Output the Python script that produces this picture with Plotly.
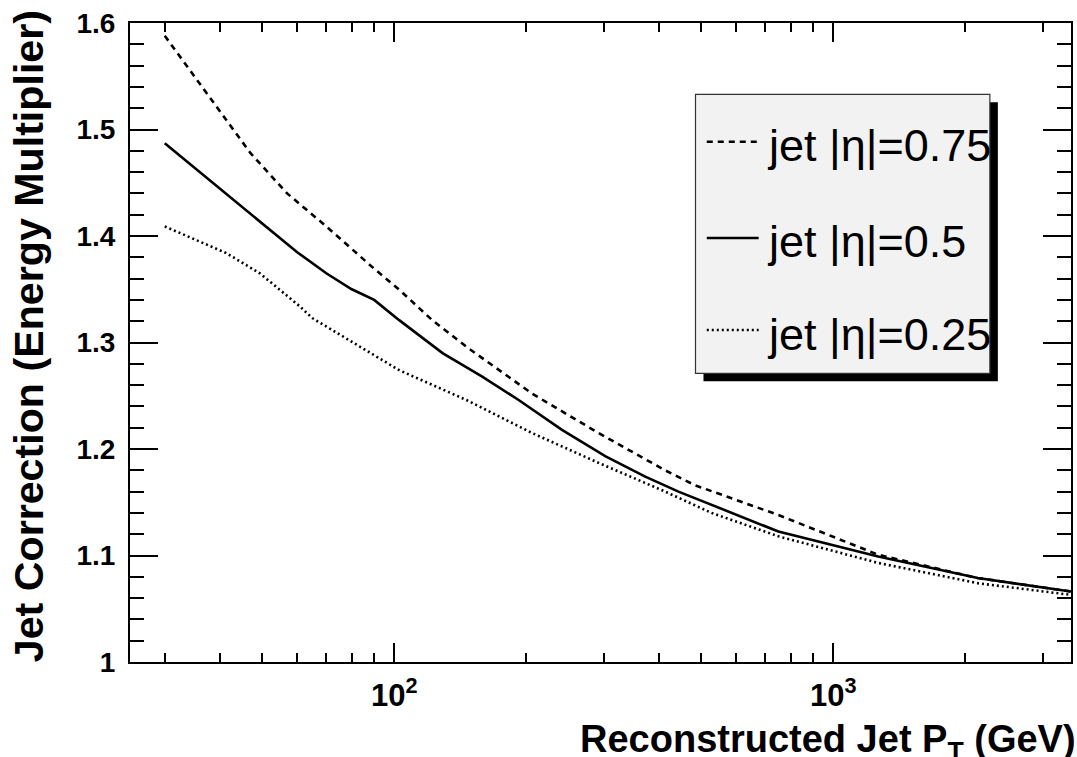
import numpy as np
import plotly.graph_objects as go

# ---------------- data ----------------
pt_eta075 = [30, 40, 47, 57, 70, 89, 103, 122, 146, 206, 292, 414, 484, 750, 1266, 2134, 3480]
corr_eta075 = [1.588, 1.518, 1.478, 1.440, 1.409, 1.371, 1.349, 1.321, 1.296, 1.252, 1.215, 1.180,
               1.166, 1.138, 1.1007, 1.0788, 1.0662]

pt_eta050 = [30, 40, 50, 60, 70, 80, 90, 102.6, 128.8, 158.6, 192, 241, 303, 373, 444, 750, 1266, 2134, 3480]
corr_eta050 = [1.487, 1.445, 1.412, 1.385, 1.365, 1.350, 1.340, 1.321, 1.290, 1.268, 1.246, 1.218,
               1.193, 1.174, 1.160, 1.1225, 1.099, 1.0788, 1.0662]

pt_eta025 = [30, 41.4, 49.4, 60.9, 65, 102.6, 146, 206, 292, 414, 528, 750, 1266, 2134, 3480]
corr_eta025 = [1.409, 1.384, 1.365, 1.334, 1.323, 1.274, 1.246, 1.215, 1.187, 1.160, 1.140, 1.118,
               1.093, 1.074, 1.063]

series_names = ["jet |η|=0.75", "jet |η|=0.5", "jet |η|=0.25"]
series_dash = ["6px,5px", "solid", "2px,3px"]

y_tickvals = [1.0, 1.1, 1.2, 1.3, 1.4, 1.5, 1.6]
y_ticktext = ["1", "1.1", "1.2", "1.3", "1.4", "1.5", "1.6"]
x_tickvals = [100, 1000]
x_ticktext = ["10<sup>2</sup>", "10<sup>3</sup>"]
x_minor = [30, 40, 50, 60, 70, 80, 90, 200, 300, 400, 500, 600, 700, 800, 900, 2000, 3000]
y_minor = [round(1.0 + 0.02 * i, 2) for i in range(31)]

x_title = "Reconstructed Jet P<sub>T</sub> (GeV)"
y_title = "Jet Correction (Energy Multiplier)"

# ---------------- layout geometry ----------------
W, H = 1077, 757
ML, MR, MT, MB = 130, 4, 23, 95
PW, PH = W - ML - MR, H - MT - MB

def px_x(p):                  # pixel -> paper fraction
    return (p - ML) / PW

def px_y(p):
    return (H - MB - p) / PH

FONT = "Liberation Sans, Arial, Helvetica, sans-serif"

fig = go.Figure()
for xs, ys, name, dash in zip([pt_eta075, pt_eta050, pt_eta025],
                              [corr_eta075, corr_eta050, corr_eta025],
                              series_names, series_dash):
    fig.add_trace(go.Scatter(x=xs, y=ys, mode="lines", name=name,
                             line=dict(color="black", width=2.6, dash=dash),
                             showlegend=False, hoverinfo="x+y"))

fig.update_layout(
    width=W, height=H,
    margin=dict(l=ML, r=MR, t=MT, b=MB, pad=0),
    paper_bgcolor="white", plot_bgcolor="white",
    font=dict(family=FONT, color="black"),
    showlegend=False,
)

fig.update_xaxes(
    type="log", range=[np.log10(25), np.log10(3480)],
    showgrid=False, zeroline=False,
    showline=True, linecolor="black", linewidth=2, mirror="ticks",
    ticks="inside", ticklen=19, tickwidth=1.6, tickcolor="black",
    tickmode="array", tickvals=x_tickvals, ticktext=x_ticktext,
    tickfont=dict(family=FONT, size=31, weight="bold", color="black"),
    ticklabelstandoff=5,
    minor=dict(tickmode="array", tickvals=x_minor, ticks="inside", ticklen=9,
               tickwidth=1.6, tickcolor="black", showgrid=False),
)
fig.update_yaxes(
    range=[1.0, 1.6],
    showgrid=False, zeroline=False,
    showline=True, linecolor="black", linewidth=2, mirror="ticks",
    ticks="inside", ticklen=28, tickwidth=1.6, tickcolor="black",
    tickmode="array", tickvals=y_tickvals, ticktext=y_ticktext,
    tickfont=dict(family=FONT, size=28, weight="bold", color="black"),
    ticklabelstandoff=7,
    minor=dict(tickmode="array", tickvals=y_minor, ticks="inside", ticklen=14,
               tickwidth=1.6, tickcolor="black", showgrid=False),
)

# axis titles
fig.add_annotation(text=x_title, xref="paper", yref="paper",
                   x=px_x(1073), y=px_y(742), xanchor="right", yanchor="middle", xshift=7,
                   showarrow=False, font=dict(family=FONT, size=38, weight="bold", color="black"))
fig.add_annotation(text=y_title, xref="paper", yref="paper", textangle=-90,
                   x=px_x(29), y=px_y(8), xanchor="center", yanchor="top",
                   showarrow=False, font=dict(family=FONT, size=41.2, weight="bold", color="black"))

# legend box with shadow (ROOT style)
bx0, by0, bx1, by1 = 696.7, 94.3, 991.7, 373.3
off = 8
fig.add_shape(type="rect", xref="paper", yref="paper",
              x0=px_x(bx0 + off), x1=px_x(bx1 + off), y0=px_y(by1 + off), y1=px_y(by0 + off),
              line=dict(width=0), fillcolor="black", layer="above")
fig.add_shape(type="rect", xref="paper", yref="paper",
              x0=px_x(bx0), x1=px_x(bx1), y0=px_y(by1), y1=px_y(by0),
              line=dict(width=1.2, color="#333333"), fillcolor="#f2f2f2", layer="above")

rows_y = [141.7, 238, 330]
for name, dash, ry in zip(series_names, series_dash, rows_y):
    fig.add_shape(type="line", xref="paper", yref="paper",
                  x0=px_x(708), x1=px_x(760), y0=px_y(ry), y1=px_y(ry),
                  line=dict(color="black", width=2.6, dash=dash), layer="above")
    fig.add_annotation(text=name, xref="paper", yref="paper",
                       x=px_x(766), y=px_y(ry + 4), xanchor="left", yanchor="middle",
                       showarrow=False, font=dict(family=FONT, size=45, color="black"))

fig.write_html("out.html", config={"displayModeBar": False},
               post_script="document.body.style.margin='0px';")
